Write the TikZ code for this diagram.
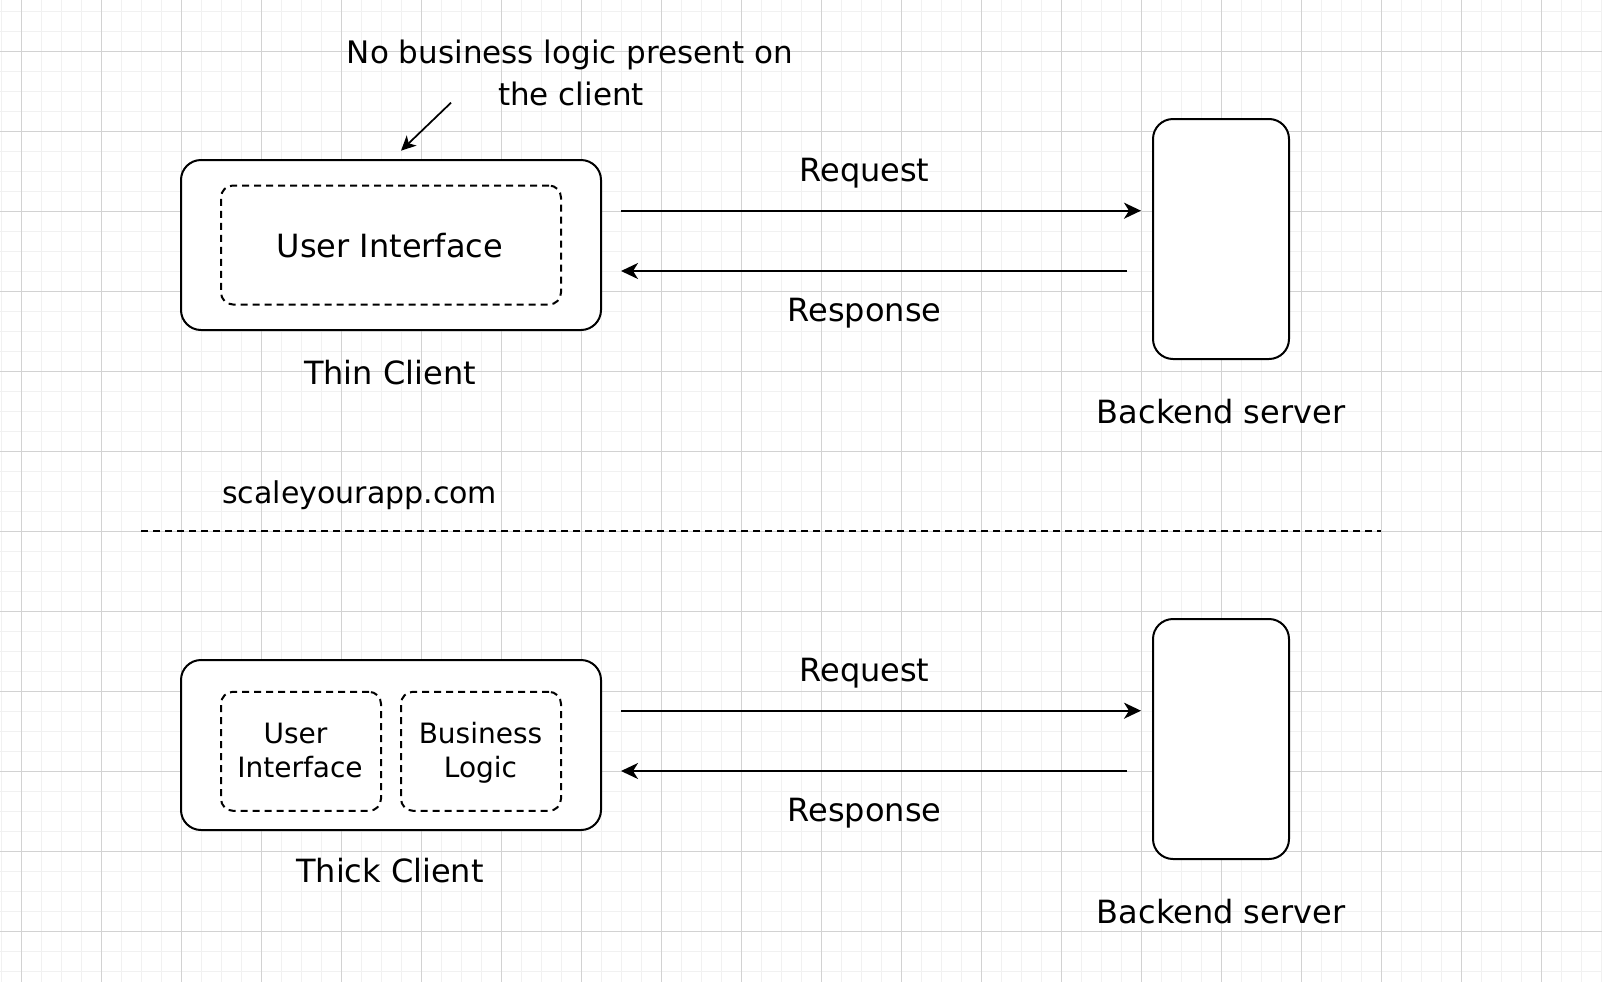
\documentclass[tikz,border=0pt]{standalone}
\usepackage{fontspec}
\setmainfont{DejaVu Sans}
\usetikzlibrary{arrows.meta}
\definecolor{gridmajor}{HTML}{D2D2D2}
\definecolor{gridminor}{HTML}{F1F1F1}
\begin{document}
\begin{tikzpicture}[x=0.75pt,y=-0.75pt,
  outerbox/.style={draw=black, fill=white, line width=1.5pt, rounded corners=15pt, minimum width=315pt, minimum height=127.5pt, inner sep=0pt},
  innerbox/.style={draw=black, fill=white, line width=1.5pt, dash pattern=on 5.25pt off 3.75pt, rounded corners=9pt, minimum height=89.25pt, inner sep=0pt},
  serverbox/.style={draw=black, fill=white, line width=1.5pt, rounded corners=15pt, minimum width=102pt, minimum height=180pt, inner sep=0pt},
  lbl/.style={anchor=base, inner sep=0pt, font=\fontsize{24}{29}\selectfont},
  smalllbl/.style={anchor=base, inner sep=0pt, font=\fontsize{21}{25}\selectfont},
  note/.style={anchor=base, inner sep=0pt, font=\fontsize{23.25}{28}\selectfont},
  arr/.style={line width=1.5pt, -{Stealth[length=12.75pt, width=12pt, inset=3.75pt]}},
  notearr/.style={line width=1.3pt, -{Stealth[length=11pt, width=10.5pt, inset=3pt]}},
  sep/.style={line width=1.2pt, dash pattern=on 5.25pt off 3.75pt}
]
\useasboundingbox (0,0) rectangle (1602,982);
\fill[white] (0,0) rectangle (1602,982);
% grid
\foreach \i in {0,...,80} \draw[gridminor, line width=1.1pt] ({1.7+20*\i},0) -- ({1.7+20*\i},982);
\foreach \j in {0,...,49} \draw[gridminor, line width=1.1pt] (0,{11.7+20*\j}) -- (1602,{11.7+20*\j});
\foreach \i in {0,...,19} \draw[gridmajor, line width=0.75pt] ({21.7+80*\i},0) -- ({21.7+80*\i},982);
\foreach \j in {0,...,11} \draw[gridmajor, line width=0.75pt] (0,{51.7+80*\j}) -- (1602,{51.7+80*\j});

% ---------- top: thin client ----------
\node[outerbox] (thin) at (391,245) {};
\node[innerbox, minimum width=255pt] (thinui) at (391,245) {};
\node[lbl] (thinuit) at (390,257) {User Interface};
\node[lbl] (thinlbl) at (390,384) {Thin Client};
\node[serverbox] (srv1) at (1221,239) {};
\node[lbl] (srv1lbl) at (1221,423.3) {Backend server};

\node[note] (note1) at (570,63.3) {No business logic present on};
\node[note] (note2) at (571,105) {the client};
\coordinate (notestart) at (451,102.7);
\coordinate (noteend) at (401,150.7);
\draw[notearr] (notestart) -- (noteend);

\coordinate (rq1a) at (621,210.7);
\coordinate (rq1b) at (1141,210.7);
\coordinate (rs1a) at (1127,271);
\coordinate (rs1b) at (621,271);
\draw[arr] (rq1a) -- (rq1b);
\draw[arr] (rs1a) -- (rs1b);
\node[lbl] (rq1lbl) at (864.5,181.7) {Request};
\node[lbl] (rs1lbl) at (864.5,321.7) {Response};

% ---------- separator ----------
\node[note, font=\fontsize{22.5}{27}\selectfont] (site) at (359.7,503.3) {scaleyourapp.com};
\coordinate (sepa) at (141,531);
\coordinate (sepb) at (1381,531);
\draw[sep] (sepa) -- (sepb);

% ---------- bottom: thick client ----------
\node[outerbox] (thick) at (391,745) {};
\node[innerbox, minimum width=120pt] (thickui) at (301,751.3) {};
\node[innerbox, minimum width=120pt] (thickbl) at (481,751.3) {};
\node[smalllbl] (uit1) at (295.5,743.3) {User};
\node[smalllbl] (uit2) at (300,777.3) {Interface};
\node[smalllbl] (blt1) at (480.5,743.3) {Business};
\node[smalllbl] (blt2) at (480.5,777.3) {Logic};
\node[lbl] (thicklbl) at (390,882.3) {Thick Client};
\node[serverbox] (srv2) at (1221,739) {};
\node[lbl] (srv2lbl) at (1221,923.3) {Backend server};

\coordinate (rq2a) at (621,710.7);
\coordinate (rq2b) at (1141,710.7);
\coordinate (rs2a) at (1127,771);
\coordinate (rs2b) at (621,771);
\draw[arr] (rq2a) -- (rq2b);
\draw[arr] (rs2a) -- (rs2b);
\node[lbl] (rq2lbl) at (864.5,681.7) {Request};
\node[lbl] (rs2lbl) at (864.5,821.7) {Response};
\end{tikzpicture}
\end{document}
